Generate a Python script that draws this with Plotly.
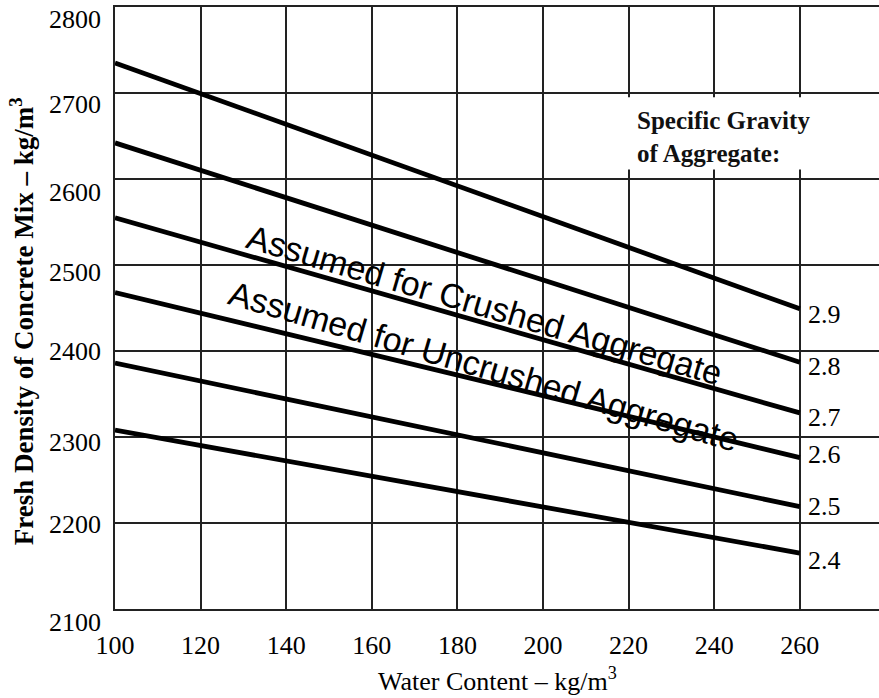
import plotly.graph_objects as go

# Water content (kg/m3) at the two ends of each density line
water = [100, 260]

# Specific gravity of the aggregate, one density line each
gravity = ["2.9", "2.8", "2.7", "2.6", "2.5", "2.4"]

# Fresh density of the concrete mix (kg/m3) at water = 100 and 260
density_29 = [2735, 2449]
density_28 = [2642, 2387]
density_27 = [2555, 2328]
density_26 = [2468, 2276]
density_25 = [2386, 2219]
density_24 = [2308, 2165]

density = [density_29, density_28, density_27, density_26, density_25, density_24]

x_ticks = [100, 120, 140, 160, 180, 200, 220, 240, 260]
y_ticks = [2100, 2200, 2300, 2400, 2500, 2600, 2700, 2800]

# Per-label vertical nudges (px) for the end labels and the density labels
label_shift = [-6, -4, -5, 3, 0, -7]
ytick_shift = [-13, -1, -5, 0, -7, -13, -11, -12]

SERIF = "Liberation Serif, Times New Roman, serif"
SANS = "Liberation Sans, Arial, sans-serif"
GRID = "#222222"

fig = go.Figure()

for name, vals in zip(gravity, density):
    fig.add_trace(go.Scatter(
        x=water, y=vals, mode="lines", name=name,
        line=dict(color="black", width=4.8),
        showlegend=False, hoverinfo="skip",
    ))

annotations = []
for name, vals, dy in zip(gravity, density, label_shift):
    annotations.append(dict(
        x=water[-1], y=vals[-1], xref="x", yref="y",
        text=name, showarrow=False, xanchor="left", yanchor="middle",
        xshift=6, yshift=dy,
        font=dict(family=SERIF, size=26, color="black"),
    ))

# Density labels down the left edge
for v, dy in zip(y_ticks, ytick_shift):
    annotations.append(dict(
        x=0, y=v, xref="paper", yref="y",
        text=str(v), showarrow=False, xanchor="right", yanchor="middle",
        xshift=-12, yshift=dy,
        font=dict(family=SERIF, size=26, color="black"),
    ))

# Slanted notes laid along the middle lines
annotations.append(dict(
    x=186.4, y=2454, xref="x", yref="y",
    text="Assumed for Crushed Aggregate", showarrow=False,
    textangle=16.3, xanchor="center", yanchor="middle",
    font=dict(family=SANS, size=34, color="black"),
))
annotations.append(dict(
    x=186.0, y=2382, xref="x", yref="y",
    text="Assumed for Uncrushed Aggregate", showarrow=False,
    textangle=16.3, xanchor="center", yanchor="middle",
    font=dict(family=SANS, size=34, color="black"),
))

# Legend heading over a blank patch of grid
annotations.append(dict(
    x=221.6, y=2649, xref="x", yref="y",
    text="<b>Specific Gravity<br>of Aggregate:</b>", showarrow=False,
    xanchor="left", yanchor="middle", align="left",
    font=dict(family=SERIF, size=25, color="#111111"),
))

# Axis titles
annotations.append(dict(
    x=0.5, y=-0.117, xref="paper", yref="paper",
    text="Water Content – kg/m<sup>3</sup>", showarrow=False,
    xanchor="center", yanchor="middle",
    font=dict(family=SERIF, size=26, color="black"),
))
annotations.append(dict(
    x=(22 - 115) / 764, y=0.478, xref="paper", yref="paper",
    text="<b>Fresh Density of Concrete Mix – kg/m<sup>3</sup></b>", showarrow=False,
    textangle=-90, xanchor="center", yanchor="middle",
    font=dict(family=SERIF, size=27, color="black"),
))

shapes = [dict(
    type="rect", xref="x", yref="y", layer="above",
    x0=218.6, x1=271, y0=2611, y1=2695,
    fillcolor="white", line=dict(width=0),
)]

fig.update_layout(
    width=879, height=698,
    margin=dict(l=115, r=0, t=7, b=89),
    paper_bgcolor="white", plot_bgcolor="white",
    annotations=annotations, shapes=shapes,
    showlegend=False,
)

fig.update_xaxes(
    range=[100, 278.5], tickvals=x_ticks, ticktext=[str(v) for v in x_ticks],
    showgrid=True, gridcolor=GRID, gridwidth=1.6, zeroline=False,
    showline=True, linecolor=GRID, linewidth=2, mirror=True,
    ticks="", ticklabelstandoff=12,
    tickfont=dict(family=SERIF, size=26, color="black"),
)
fig.update_yaxes(
    range=[2100, 2800], tickvals=y_ticks,
    showticklabels=False,
    showgrid=True, gridcolor=GRID, gridwidth=1.6, zeroline=False,
    showline=True, linecolor=GRID, linewidth=2, mirror=False,
    ticks="",
)

fig.write_html("out.html")
